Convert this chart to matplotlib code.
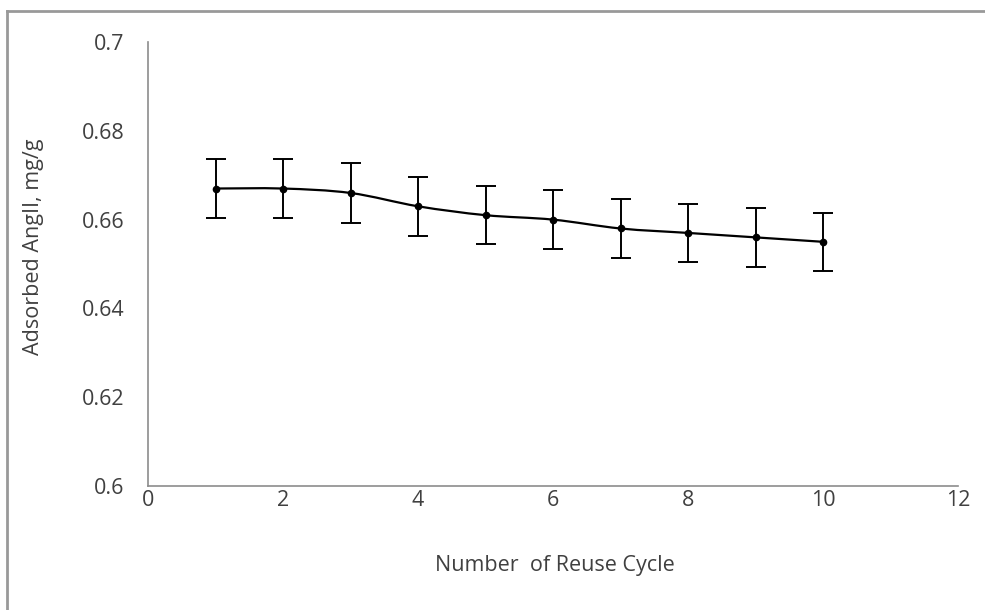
import matplotlib
matplotlib.use("Agg")
import matplotlib.pyplot as plt
from matplotlib.path import Path
from matplotlib.patches import PathPatch
from matplotlib.lines import Line2D

# reuse cycle data
cycles = [1, 2, 3, 4, 5, 6, 7, 8, 9, 10]
adsorbed = [0.667, 0.667, 0.666, 0.663, 0.661, 0.660, 0.658, 0.657, 0.656, 0.655]
err = [0.0067, 0.0067, 0.0067, 0.0066, 0.0066, 0.0066, 0.0066, 0.0066, 0.0066, 0.0066]

x_ticks = [0, 2, 4, 6, 8, 10, 12]
y_ticks = [0.6, 0.62, 0.64, 0.66, 0.68, 0.7]
y_tick_labels = ["0.6", "0.62", "0.64", "0.66", "0.68", "0.7"]

TXT = "#404040"
AX = "#8c8c8c"
FS = 15.5

plt.rcParams['font.family'] = ['Open Sans', 'DejaVu Sans']


def smooth_path(xs, ys):
    """
    * bezier path through the points, like the
    * excel "smoothed line" option
    """
    n = len(xs)
    verts = [(xs[0], ys[0])]
    codes = [Path.MOVETO]
    for i in range(n - 1):
        x0, y0 = xs[max(i - 1, 0)], ys[max(i - 1, 0)]
        x1, y1 = xs[i], ys[i]
        x2, y2 = xs[i + 1], ys[i + 1]
        x3, y3 = xs[min(i + 2, n - 1)], ys[min(i + 2, n - 1)]
        c1 = (x1 + (x2 - x0) / 6, y1 + (y2 - y0) / 6)
        c2 = (x2 - (x3 - x1) / 6, y2 - (y3 - y1) / 6)
        verts += [c1, c2, (x2, y2)]
        codes += [Path.CURVE4] * 3
    return Path(verts, codes)


fig = plt.figure(figsize=(9.85, 6.1), dpi=100)
ax = fig.add_axes([0.1503, 0.2033, 0.8223, 0.7278])

ax.add_patch(PathPatch(smooth_path(cycles, adsorbed), facecolor='none',
                       edgecolor='black', lw=1.6, zorder=3))
ax.errorbar(cycles, adsorbed, yerr=err, fmt='o', color='black', ms=4.5,
            elinewidth=1.4, capsize=7, capthick=1.4, zorder=4)

ax.set_xlim(0, 12)
ax.set_ylim(0.6, 0.7)
ax.set_xticks(x_ticks)
ax.set_yticks(y_ticks)
ax.set_yticklabels(y_tick_labels)
ax.tick_params(length=0, labelsize=FS, colors=TXT)
ax.tick_params(axis='x', pad=3)
ax.tick_params(axis='y', pad=17)

for s in ['top', 'right']:
    ax.spines[s].set_visible(False)
for s in ['left', 'bottom']:
    ax.spines[s].set_color(AX)
    ax.spines[s].set_linewidth(1.2)

ax.set_xlabel("Number  of Reuse Cycle", fontsize=FS, color=TXT)
ax.set_ylabel("Adsorbed AngII, mg/g", fontsize=FS, color=TXT)
# place the axis titles where they sit in the picture (pixel coords -> axes)
ax.xaxis.set_label_coords(0.5025, -0.178, transform=ax.transAxes)
ax.xaxis.label.set_va('center')
ax.yaxis.set_label_coords(-0.142, 0.538, transform=ax.transAxes)
ax.yaxis.label.set_va('center')

# outer chart border (only top and left show in the picture)
fig.add_artist(Line2D([0.0075, 1.0], [0.982, 0.982], color='#999999', lw=2))
fig.add_artist(Line2D([0.0075, 0.0075], [0.0, 0.982], color='#999999', lw=2))

plt.savefig("out.png", dpi=100)
